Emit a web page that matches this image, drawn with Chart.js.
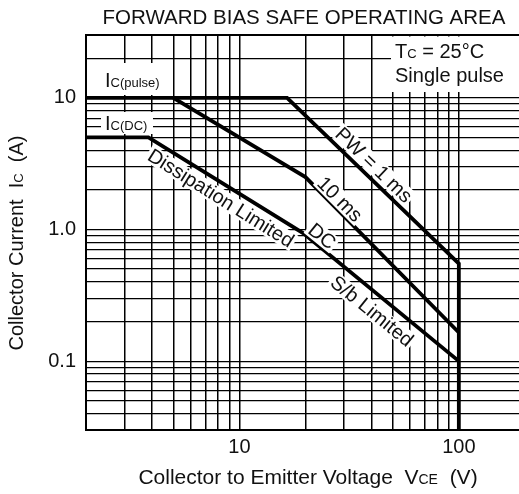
<!DOCTYPE html>
<html><head><meta charset="utf-8">
<script src="https://cdn.jsdelivr.net/npm/chart.js@4/dist/chart.umd.min.js"></script>
<style>html,body{margin:0;padding:0;background:#fff;overflow:hidden}#wrap{width:519px;height:494px;position:relative}</style>
</head><body><div id="wrap"><canvas id="c"></canvas></div>
<script>
// ---- data ----
const xTicks = [2,3,4,5,6,7,8,9,10,20,30,40,50,60,70,80,90,100];
const yTicks = [0.03,0.04,0.05,0.06,0.07,0.08,0.09,0.1,0.2,0.3,0.4,0.5,0.6,0.7,0.8,0.9,1,2,3,4,5,6,7,8,9,10,20,30];
const xLabelValues = [10,100];
const xLabelTexts = ['10','100'];
const yLabelValues = [0.1,1,10];
const yLabelTexts = ['0.1','1.0','10'];

// PW = 1 ms / Ic(pulse) boundary (V, A)
const pulseV = [2,16.5,100,100];
const pulseI = [10,10,0.55,0.03];
// PW = 10 ms boundary
const ms10V = [5,20,100];
const ms10I = [10,2.5,0.165];
// DC boundary (Ic(DC), dissipation limited, S/b limited)
const dcV = [2,3.85,19.5,100];
const dcI = [5,5,0.94,0.1];

const curveLabels = [
  {text:'PW = 1 ms', x:41, y:3.09, angle:44},
  {text:'10 ms', x:28.7, y:1.70, angle:45},
  {text:'DC', x:23.8, y:0.89, angle:39},
  {text:'S/b Limited', x:40.2, y:0.24, angle:39},
  {text:'Dissipation Limited', x:8.24, y:1.73, angle:32}
];

// ---- layout (pixels) ----
const FONT = "'Liberation Sans', Arial, sans-serif";
const INK = '#111';
const L = {
  title:{cx:304, y:24, s:20.5},
  xTitle:{cx:308, y:484, s:21},
  yTitle:{x:23, cy:243, s:20},
  icPulse:{x:105, y:87, box:[100,63,166,95]},
  icDC:{x:105, y:130, box:[101,112,153,134]},
  tc:{x:395, y1:58, y2:82, left:391, bottom:92}
};

function pts(xs, ys){ return xs.map((v,i)=>({x:v, y:ys[i]})); }
function drawRich(ctx, parts, x, y){
  let cx = x;
  for (const p of parts){ ctx.font = p.s+'px '+FONT; ctx.fillText(p.t, cx, y); cx += ctx.measureText(p.t).width; }
  return cx;
}
function richWidth(ctx, parts){
  let w = 0;
  for (const p of parts){ ctx.font = p.s+'px '+FONT; w += ctx.measureText(p.t).width; }
  return w;
}

const textPlugin = {
  id:'texts',
  beforeDatasetsDraw(chart){
    const ctx = chart.ctx, a = chart.chartArea;
    ctx.save();
    ctx.fillStyle = '#fff';
    for (const b of [L.icPulse.box, L.icDC.box]) ctx.fillRect(b[0], b[1], b[2]-b[0], b[3]-b[1]);
    ctx.fillRect(L.tc.left, a.top+1.5, a.right-L.tc.left, L.tc.bottom-a.top-1.5);
    ctx.restore();
  },
  afterDatasetsDraw(chart){
    const ctx = chart.ctx, xs = chart.scales.x, ys = chart.scales.y;
    ctx.save();
    ctx.fillStyle = INK;
    ctx.textBaseline = 'alphabetic';
    // title
    ctx.font = L.title.s+'px '+FONT;
    ctx.textAlign = 'center';
    ctx.fillText('FORWARD BIAS SAFE OPERATING AREA', L.title.cx, L.title.y);
    ctx.textAlign = 'left';
    // x title
    const xs2 = L.xTitle.s, sub = Math.round(xs2*0.65);
    const xp = [{t:'Collector to Emitter Voltage  V', s:xs2},{t:'CE', s:sub},{t:'  (V)', s:xs2}];
    drawRich(ctx, xp, L.xTitle.cx - richWidth(ctx, xp)/2, L.xTitle.y);
    // y title
    const yp = [{t:'Collector Current  I', s:L.yTitle.s},{t:'C', s:13},{t:'  (A)', s:L.yTitle.s}];
    ctx.save();
    ctx.translate(L.yTitle.x, L.yTitle.cy);
    ctx.rotate(-Math.PI/2);
    drawRich(ctx, yp, -richWidth(ctx, yp)/2, 0);
    ctx.restore();
    // Ic labels
    drawRich(ctx, [{t:'I', s:20},{t:'C(pulse)', s:13}], L.icPulse.x, L.icPulse.y);
    drawRich(ctx, [{t:'I', s:20},{t:'C(DC)', s:13}], L.icDC.x, L.icDC.y);
    // Tc box
    drawRich(ctx, [{t:'T', s:20},{t:'C', s:13},{t:' = 25\u00B0C', s:20}], L.tc.x, L.tc.y1);
    ctx.font = '20px '+FONT;
    ctx.fillText('Single pulse', L.tc.x, L.tc.y2);
    // curve labels
    for (const c of curveLabels){
      const px = xs.getPixelForValue(c.x), py = ys.getPixelForValue(c.y);
      ctx.save();
      ctx.translate(px, py);
      ctx.rotate(c.angle*Math.PI/180);
      ctx.font = '20px '+FONT;
      const w = ctx.measureText(c.text).width;
      ctx.fillStyle = '#fff';
      ctx.fillRect(-w/2-2, -9, w+4, 18);
      ctx.fillStyle = INK;
      ctx.textAlign = 'center';
      ctx.textBaseline = 'middle';
      ctx.fillText(c.text, 0, 1);
      ctx.restore();
    }
    ctx.restore();
  }
};

const lineStyle = {showLine:true, borderColor:'#000', borderWidth:3.8, pointRadius:0, fill:false, tension:0};

new Chart(document.getElementById('c'), {
  type:'scatter',
  data:{datasets:[
    Object.assign({label:'Ic(pulse) / PW = 1 ms', data:pts(pulseV, pulseI)}, lineStyle),
    Object.assign({label:'PW = 10 ms', data:pts(ms10V, ms10I)}, lineStyle),
    Object.assign({label:'DC', data:pts(dcV, dcI)}, lineStyle)
  ]},
  options:{
    responsive:true, maintainAspectRatio:false, animation:false,
    layout:{padding:{top:35, left:0, right:0, bottom:0}},
    plugins:{legend:{display:false}, tooltip:{enabled:false}, title:{display:false}},
    scales:{
      x:{
        type:'logarithmic', min:2, max:188, bounds:'data',
        afterBuildTicks(s){ s.ticks = xTicks.map(v=>({value:v})); },
        afterFit(s){ s.height = 64; },
        grid:{color:'#000', lineWidth:(c)=> (c.tick && c.tick.value===2) ? 2 : 1.5, drawTicks:false},
        border:{display:true, color:'#000', width:2},
        ticks:{autoSkip:false, maxRotation:0, padding:5, color:INK, font:{family:FONT, size:20},
          callback:(v)=>{ const i = xLabelValues.indexOf(v); return i>=0 ? xLabelTexts[i] : ''; }}
      },
      y:{
        type:'logarithmic', min:0.03, max:30, bounds:'data',
        afterBuildTicks(s){ s.ticks = yTicks.map(v=>({value:v})); },
        afterFit(s){ s.width = 86; },
        grid:{color:'#000', lineWidth:(c)=> (c.tick && c.tick.value===30) ? 2 : 1.3, drawTicks:false},
        border:{display:true, color:'#000', width:2},
        ticks:{autoSkip:false, padding:10, color:INK, font:{family:FONT, size:20},
          callback:(v)=>{ const i = yLabelValues.indexOf(v); return i>=0 ? yLabelTexts[i] : ''; }}
      }
    }
  },
  plugins:[textPlugin]
});
</script>
</body></html>
